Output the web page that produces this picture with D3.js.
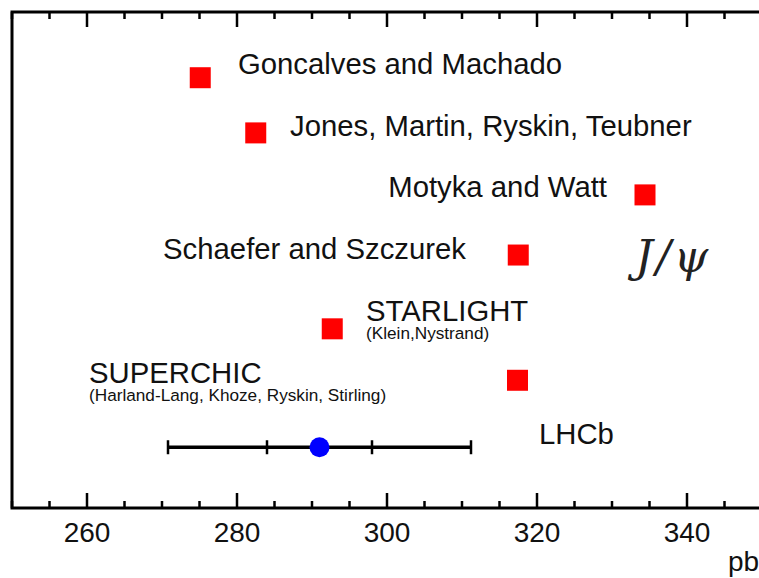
<!DOCTYPE html>
<html>
<head>
<meta charset="utf-8">
<script src="https://cdn.jsdelivr.net/npm/d3@7"></script>
<style>
  html, body { margin: 0; padding: 0; background: #fff; }
  svg { display: block; font-family: "Liberation Sans", Arial, Helvetica, sans-serif; }
</style>
</head>
<body>
<div id="chart"></div>
<script>
// J/psi cross-section predictions vs LHCb measurement (pb)
const models  = ['Goncalves and Machado', 'Jones, Martin, Ryskin, Teubner', 'Motyka and Watt',
                 'Schaefer and Szczurek', 'STARLIGHT', 'SUPERCHIC'];
const values  = [275.1, 282.5, 334.4, 317.5, 292.7, 317.4];
const rows    = [6.94, 6.05, 5.05, 4.08, 2.89, 2.06];

const lhcbValue = 291;
const lhcbStat  = 7;
const lhcbTotal = 20.2;
const lhcbRow   = 0.98;

const xTicks = [260, 280, 300, 320, 340];

// label anchors in data units
const labels = [
  { text: 'Goncalves and Machado',          x: 280.13, y: 7.0,   anchor: 'start', size: 29.3 },
  { text: 'Jones, Martin, Ryskin, Teubner', x: 287.07, y: 6.0,   anchor: 'start', size: 29.3 },
  { text: 'Motyka and Watt',                x: 329.33, y: 5.02,  anchor: 'end',   size: 29.3 },
  { text: 'Schaefer and Szczurek',          x: 310.53, y: 4.02,  anchor: 'end',   size: 29.3 },
  { text: 'STARLIGHT',                      x: 297.2,  y: 3.02,  anchor: 'start', size: 29.3 },
  { text: '(Klein,Nystrand)',               x: 297.2,  y: 2.72,  anchor: 'start', size: 17.2 },
  { text: 'SUPERCHIC',                      x: 260.27, y: 2.02,  anchor: 'start', size: 29.3 },
  { text: '(Harland-Lang, Khoze, Ryskin, Stirling)', x: 260.27, y: 1.73, anchor: 'start', size: 17.2 },
  { text: 'LHCb',                           x: 320.27, y: 1.03,  anchor: 'start', size: 29.3 }
];

const W = 759, H = 578;
const frame = { left: 12, top: 12, bottom: 508 };

const x = d3.scaleLinear().domain([250, 350]).range([frame.left, 762]);
const y = d3.scaleLinear().domain([0, 8]).range([frame.bottom, frame.top]);

const svg = d3.select('#chart').append('svg')
  .attr('width', W).attr('height', H);

// frame
svg.append('rect')
  .attr('x', x(250)).attr('y', y(8))
  .attr('width', x(350) - x(250)).attr('height', y(0) - y(8))
  .attr('fill', 'none').attr('stroke', '#000').attr('stroke-width', 3);

// ticks bottom and top
const minor = d3.range(250, 351, 5);
const isMajor = d => d % 20 === 0;
svg.append('g').selectAll('line.tb')
  .data(minor).enter().append('line')
    .attr('x1', d => x(d)).attr('x2', d => x(d))
    .attr('y1', y(0)).attr('y2', d => y(0) - (isMajor(d) ? 15 : 7))
    .attr('stroke', '#000').attr('stroke-width', 2.5);
svg.append('g').selectAll('line.tt')
  .data(minor).enter().append('line')
    .attr('x1', d => x(d)).attr('x2', d => x(d))
    .attr('y1', y(8)).attr('y2', d => y(8) + (isMajor(d) ? 15 : 7))
    .attr('stroke', '#000').attr('stroke-width', 2.5);

// tick labels
svg.append('g').selectAll('text')
  .data(xTicks).enter().append('text')
    .attr('x', d => x(d)).attr('y', 542)
    .attr('text-anchor', 'middle')
    .attr('font-size', 28).attr('fill', '#111')
    .text(d => d);

svg.append('text')
  .attr('x', 728).attr('y', 571)
  .attr('font-size', 28).attr('fill', '#111')
  .text('pb');

// model predictions
svg.append('g').selectAll('rect')
  .data(values).enter().append('rect')
    .attr('x', d => x(d) - 10.5)
    .attr('y', (d, i) => y(rows[i]) - 10.5)
    .attr('width', 21).attr('height', 21)
    .attr('fill', '#ff0000');

// LHCb measurement
const eb = svg.append('g').attr('stroke', '#000');
eb.append('line')
  .attr('x1', x(lhcbValue - lhcbTotal)).attr('x2', x(lhcbValue + lhcbTotal))
  .attr('y1', y(lhcbRow)).attr('y2', y(lhcbRow))
  .attr('stroke-width', 3.5);
[lhcbValue - lhcbTotal, lhcbValue - lhcbStat, lhcbValue + lhcbStat, lhcbValue + lhcbTotal].forEach(v => {
  eb.append('line')
    .attr('x1', x(v)).attr('x2', x(v))
    .attr('y1', y(lhcbRow) - 7).attr('y2', y(lhcbRow) + 7)
    .attr('stroke-width', 2.5);
});
svg.append('circle')
  .attr('cx', x(lhcbValue)).attr('cy', y(lhcbRow))
  .attr('r', 10).attr('fill', '#0000ff');

// labels
svg.append('g').selectAll('text')
  .data(labels).enter().append('text')
    .attr('x', d => x(d.x)).attr('y', d => y(d.y))
    .attr('text-anchor', d => d.anchor)
    .attr('font-size', d => d.size).attr('fill', '#111')
    .text(d => d.text);

// J/psi tag
svg.append('text')
  .attr('x', x(333.1)).attr('y', y(3.8))
  .attr('font-family', '"DejaVu Serif", "Liberation Serif", serif')
  .attr('font-style', 'italic')
  .attr('font-size', 44).attr('fill', '#222')
  .attr('letter-spacing', 3)
  .text('J/ψ');
</script>
</body>
</html>
